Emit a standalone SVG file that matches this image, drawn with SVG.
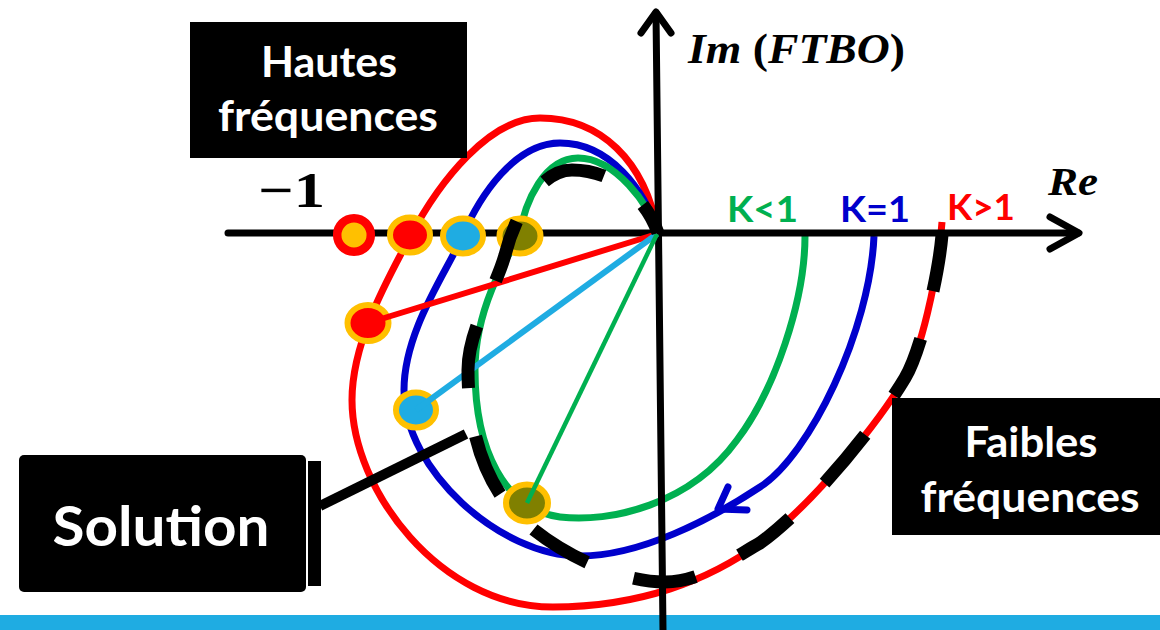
<svg xmlns="http://www.w3.org/2000/svg" width="1160" height="630" viewBox="0 0 1160 630">
  <defs>
    <style>
      .curve{fill:none;stroke-width:7;stroke-linecap:butt;stroke-linejoin:round}
      .axis{fill:none;stroke:#000;stroke-width:7;stroke-linecap:round;stroke-linejoin:round}
      .ray{fill:none;stroke-linecap:butt}
      .pt{stroke:#FFC000;stroke-width:6}
      .box{fill:#000}
      .lbl{font-family:Lato,"Open Sans",sans-serif;font-weight:700;fill:#fff;text-anchor:middle}
      .klbl{font-family:Lato,"Open Sans",sans-serif;font-weight:700;font-size:36px}
      .math{font-family:"Liberation Serif","DejaVu Serif",serif;font-weight:700;font-style:italic;fill:#000}
    </style>
  </defs>

  <rect width="1160" height="630" fill="#fff"/>
  <!-- bottom band -->
  <rect x="0" y="615" width="1160" height="15" fill="#1FACE2"/>

  <!-- Nyquist loci for three gains -->
  <g id="loci">
    <path id="locus-k-gt-1" class="curve" stroke="#FF0000"
      d="M658,233 C645,160 600,118 540,118 C490,118 440,180 410,237 C390,275 352,340 352,400 C352,490 440,607 553,607 C640,607 710,580 760,543 C815,503 880,420 905,378 C920,353 938,280 942,222"/>
    <path id="locus-k-eq-1" class="curve" stroke="#0000CC"
      d="M658,233 C645,190 610,143 560,143 C515,143 480,195 462,237 C448,270 404,330 404,390 C404,470 500,556 580,556 C640,556 710,520 760,487 C810,455 870,330 874,236"/>
    <path id="locus-k-lt-1" class="curve" stroke="#00B050"
      d="M658,233 C650,205 615,158 578,158 C545,158 525,200 519,237 C505,260 475,310 475,370 C475,450 505,510 560,517 C610,523 690,505 737,440 C775,390 805,300 805,236"/>
  </g>

  <!-- axes -->
  <g id="axes">
    <line class="axis" x1="228" y1="233" x2="1078" y2="233"/>
    <polyline class="axis" points="1050,217 1079,233 1050,249"/>
    <line class="axis" x1="663" y1="630" x2="656" y2="13" stroke-width="6"/>
    <polyline class="axis" points="641,33 656,12 671,33" stroke-width="6"/>
  </g>

  <!-- operating points -->
  <g id="points">
    <circle id="pt-critical" cx="354" cy="235" r="16.8" fill="#FFC000" stroke="#FF0000" stroke-width="8.5"/>
    <ellipse id="pt-red-axis" class="pt" cx="410" cy="235" rx="20" ry="17.5" fill="#FF0000"/>
    <ellipse id="pt-blue-axis" class="pt" cx="463" cy="236" rx="20" ry="17.5" fill="#1FACE2"/>
    <ellipse id="pt-green-axis" class="pt" cx="520" cy="236" rx="20.5" ry="17.5" fill="#808000"/>
    <ellipse id="pt-red" class="pt" cx="368" cy="323" rx="20.5" ry="18" fill="#FF0000"/>
    <ellipse id="pt-blue" class="pt" cx="416" cy="410" rx="20" ry="17.5" fill="#1FACE2"/>
    <ellipse id="pt-green" class="pt" cx="527" cy="503" rx="21" ry="18.5" fill="#808000"/>
  </g>

  <g id="connectors">
    <line class="ray" x1="657" y1="234" x2="368" y2="323" stroke="#FF0000" stroke-width="6"/>
    <line class="ray" x1="657" y1="234" x2="416" y2="410" stroke="#1FACE2" stroke-width="6"/>
    <line class="ray" x1="657" y1="234" x2="527" y2="503" stroke="#00B050" stroke-width="4.5"/>
    <!-- locus of solutions -->
    <path id="solution-locus" fill="none" stroke="#000" stroke-width="13" stroke-dasharray="63 49" stroke-dashoffset="31"
      d="M658,233 C645,195 610,170 572,170 C540,170 515,215 505,255 C495,290 468,330 468,370 C468,440 490,490 520,518 C560,555 620,582 665,582 C700,582 730,560 760,543 C815,503 880,420 905,378 C920,353 938,280 942,235"/>
    <!-- direction of increasing frequency -->
    <polyline fill="none" stroke="#0000CC" stroke-width="7" stroke-linecap="round" stroke-linejoin="round" points="728,487 718,509 747,510"/>
    <!-- pointer from the Solution label -->
    <line x1="320" y1="506" x2="466" y2="434" stroke="#000" stroke-width="10"/>
    <rect x="308" y="461" width="13" height="125" fill="#000"/>
  </g>

  <!-- axis labels -->
  <g id="axis-labels">
    <text class="math" x="688" y="63" font-size="42" textLength="217" lengthAdjust="spacingAndGlyphs">Im <tspan font-style="normal">(</tspan>FTBO<tspan font-style="normal">)</tspan></text>
    <text class="math" x="1048" y="195" font-size="40" textLength="50" lengthAdjust="spacingAndGlyphs">Re</text>
    <text x="258" y="207" font-family="'Liberation Serif','DejaVu Serif',serif" font-weight="700" font-size="50" textLength="67" lengthAdjust="spacingAndGlyphs">−1</text>
  </g>

  <g id="gain-labels">
    <text class="klbl" x="727" y="222" fill="#00B050" textLength="71" lengthAdjust="spacingAndGlyphs">K&lt;1</text>
    <text class="klbl" x="840" y="222" fill="#0000CC" textLength="70" lengthAdjust="spacingAndGlyphs">K=1</text>
    <text class="klbl" x="947" y="220" fill="#FF0000" textLength="68" lengthAdjust="spacingAndGlyphs">K&gt;1</text>
  </g>

  <g id="node-hautes">
    <rect class="box" x="190" y="22" width="277" height="136"/>
    <text class="lbl" x="329" y="77" font-size="42" textLength="136" lengthAdjust="spacingAndGlyphs">Hautes</text>
    <text class="lbl" x="328" y="131" font-size="42" textLength="220" lengthAdjust="spacingAndGlyphs">fréquences</text>
  </g>

  <g id="node-faibles">
    <rect class="box" x="892" y="398" width="268" height="137"/>
    <text class="lbl" x="1031" y="457" font-size="42" textLength="133" lengthAdjust="spacingAndGlyphs">Faibles</text>
    <text class="lbl" x="1030" y="512" font-size="42" textLength="219" lengthAdjust="spacingAndGlyphs">fréquences</text>
  </g>

  <g id="node-solution">
    <rect class="box" x="19" y="455" width="287" height="137" rx="5"/>
    <text class="lbl" x="161" y="546" font-size="56" textLength="217" lengthAdjust="spacingAndGlyphs">Solution</text>
  </g>
</svg>
